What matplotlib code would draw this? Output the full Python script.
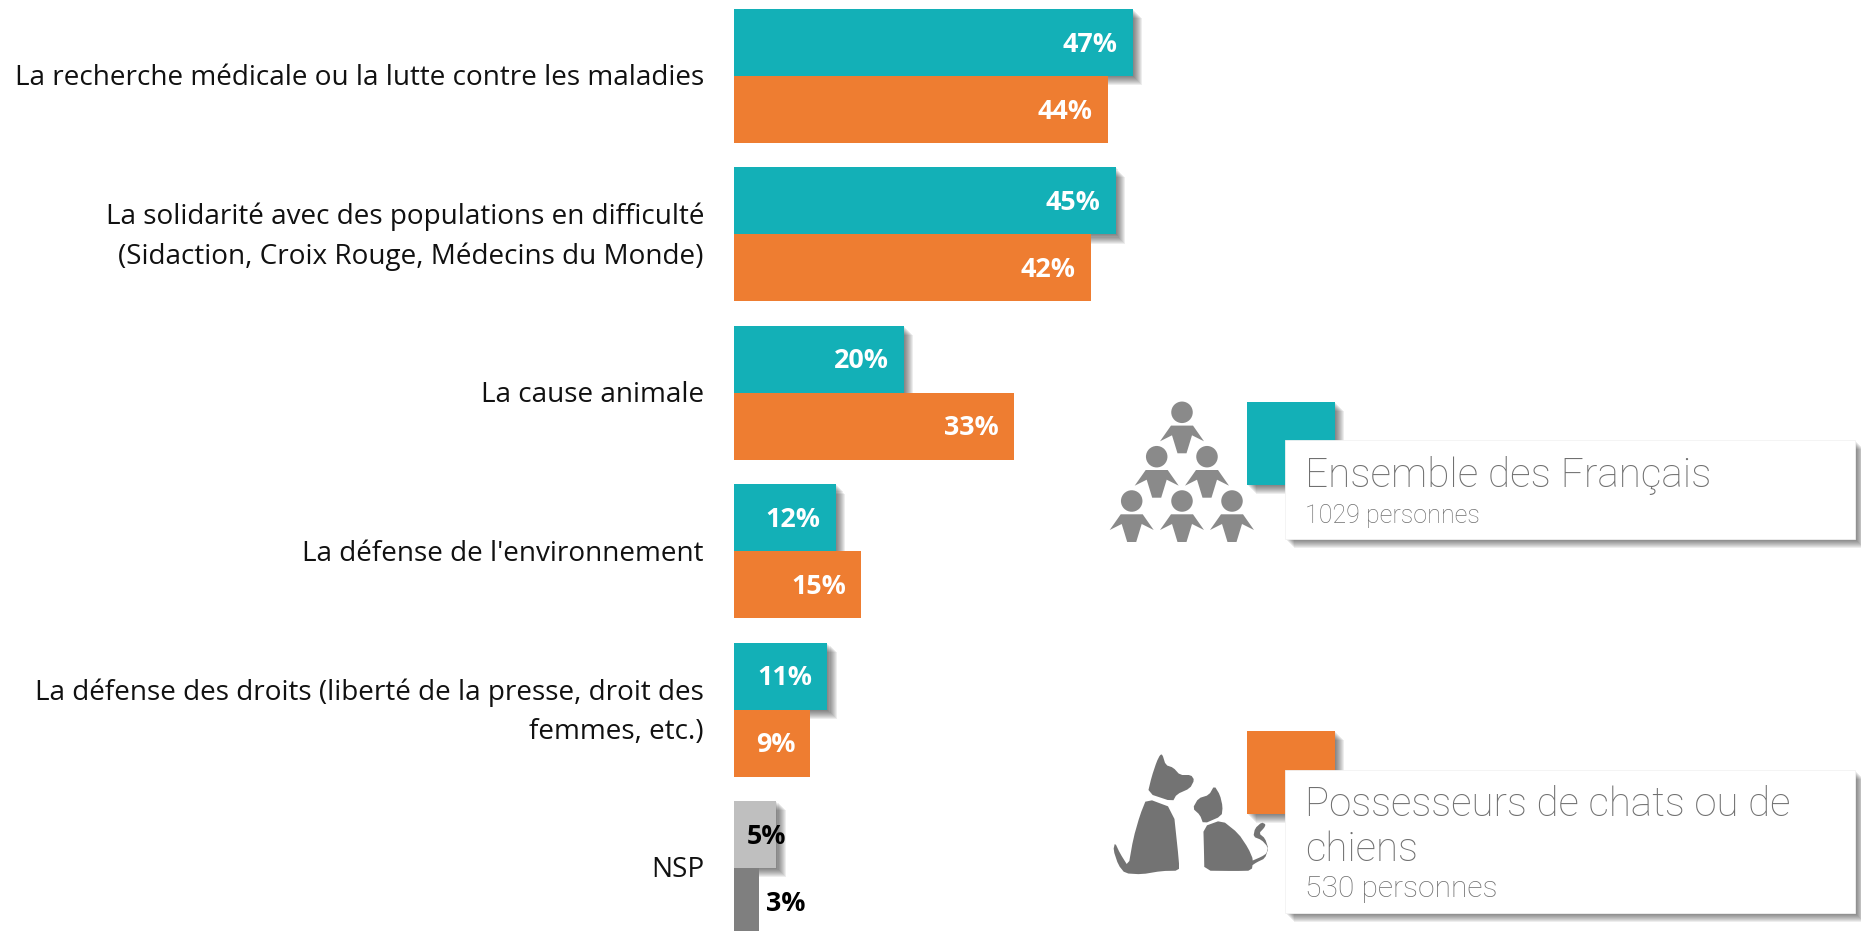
import matplotlib
matplotlib.use("Agg")
import matplotlib.pyplot as plt
import matplotlib.patheffects as pe
from matplotlib.patches import Rectangle, Ellipse, Polygon
import numpy as np

W, H = 1861, 931
categories = [
    "La recherche médicale ou la lutte contre les maladies",
    "La solidarité avec des populations en difficulté\n(Sidaction, Croix Rouge, Médecins du Monde)",
    "La cause animale",
    "La défense de l'environnement",
    "La défense des droits (liberté de la presse, droit des\nfemmes, etc.)",
    "NSP",
]
francais = [47, 45, 20, 12, 11, 5]
possesseurs = [44, 42, 33, 15, 9, 3]
legend_one = ("Ensemble des Français", "1029 personnes")
legend_two = ("Possesseurs de chats ou de", "chiens", "530 personnes")

TEAL, ORANGE, LIGHT, DARK = "#13b0b7", "#ee7d31", "#bfbfbf", "#7f7f7f"
BODY = "Open Sans"
LEG = "Roboto"

plt.rcParams["font.family"] = [BODY, "DejaVu Sans"]
fig = plt.figure(figsize=(W / 100, H / 100), dpi=100, facecolor="white")

# main axes: left edge is the zero of the bars, one unit = 8.49 px
X0 = 734
PX_PER_PCT = 8.49
ax = fig.add_axes([X0 / W, 0, 1 - X0 / W, 1])
ax.set_xlim(0, (W - X0) / PX_PER_PCT)
STEP, Y0 = 158.4, 76
ax.set_ylim((H - Y0) / STEP, -Y0 / STEP)
for s in ax.spines.values():
    s.set_visible(False)
ax.xaxis.set_visible(False)
ax.patch.set_alpha(0)
ypos = np.arange(len(categories))
ax.set_yticks(ypos + 2.3 / STEP, categories, fontsize=20.1, color="#111111", linespacing=1.53, ha="right")
ax.tick_params(axis="y", length=0, pad=21.6)
for t in ax.get_yticklabels():
    t.set_va("center")

def soft_shadow(step=0.75, n=9, alpha=0.085):
    fx = [pe.SimplePatchShadow(offset=(step * i, -step * i), shadow_rgbFace="#303030", alpha=alpha)
          for i in range(n, 0, -1)]
    return fx + [pe.Normal()]

bh = 67 / STEP
for i in ypos:
    a = francais[i]
    b = possesseurs[i]
    nsp = categories[i] == "NSP"
    top = ax.barh(i - bh / 2, a, height=bh, color=LIGHT if nsp else TEAL, linewidth=0, zorder=2)
    top[0].set_path_effects(soft_shadow())
    ax.barh(i + bh / 2, b, height=bh, color=DARK if nsp else ORANGE, linewidth=0, zorder=3)
    col = "black" if nsp else "white"
    dx_a = 7 if nsp else -11
    dx_b = 33 if nsp else -11
    for val, yy, dx in ((a, i - bh / 2, dx_a), (b, i + bh / 2, dx_b)):
        ax.annotate(f"{val}%", (val, yy), xytext=(dx, 0.6), textcoords="offset points",
                    ha="right", va="center_baseline", color=col, fontsize=19.4,
                    fontweight="bold", zorder=5)

# overlay for legend cards and pictograms, in image pixels
ov = fig.add_axes([0, 0, 1, 1])
ov.set_xlim(0, W)
ov.set_ylim(H, 0)
ov.axis("off")
ov.patch.set_alpha(0)

def card(swatch_col, sw_top, sw_bot, box_top, box_bot):
    sw = Rectangle((1247, sw_top), 88, sw_bot - sw_top, fc=swatch_col, ec="none", zorder=2)
    sw.set_path_effects(soft_shadow())
    ov.add_patch(sw)
    bx = Rectangle((1285, box_top), 570, box_bot - box_top, fc="white", ec="#f2f2f2", lw=0.6, zorder=3)
    bx.set_path_effects(soft_shadow())
    ov.add_patch(bx)

card(TEAL, 402, 485, 440, 539)
card(ORANGE, 731, 814, 770, 913)

TXT = "#707070"
def leg(x, y, s, size):
    ov.text(x, y, s, fontsize=size, color=TXT, family=LEG, fontweight="light", va="baseline", ha="left", zorder=4)

leg(1305, 487, legend_one[0], 29.2)
leg(1305, 523, legend_one[1], 18.1)
leg(1305, 816, legend_two[0], 29)
leg(1305, 861, legend_two[1], 29)
leg(1305, 897, legend_two[2], 21.6)

# people pictogram
GREY = "#8a8a8a"
heads = [(1182, 412.3), (1156.7, 456.7), (1207, 456.7), (1131.7, 501), (1182, 501), (1232, 501)]
body = [(-11, 13.3), (11, 13.3), (22, 29), (10, 23), (4.5, 41), (-4.5, 41), (-10, 23), (-22, 29)]
for hx, hy in heads:
    ov.add_patch(Ellipse((hx, hy), 21.5, 21.5, fc=GREY, ec="none", zorder=2))
    ov.add_patch(Polygon([(hx + p, hy + q) for p, q in body], fc=GREY, ec="none", zorder=2))

def chaikin(pts, n=1):
    pts = np.array(pts, float)
    for _ in range(n):
        nxt = np.roll(pts, -1, axis=0)
        pts = np.column_stack([0.8 * pts + 0.2 * nxt, 0.2 * pts + 0.8 * nxt]).reshape(-1, 2)
    return pts

def trace(pts):
    a = chaikin(pts)
    return np.column_stack([1105 + a[:, 0] / 3, 745 + a[:, 1] / 3])

PET = "#737373"
dog_head = [(172, 28), (182, 60), (205, 68), (225, 90), (258, 90), (268, 105), (255, 130), (215, 148),
            (203, 170), (128, 145), (140, 95), (155, 50), (165, 30)]
dog_body = [(125, 160), (205, 190), (222, 350), (222, 377), (170, 378), (110, 388), (60, 385), (40, 360),
            (25, 315), (30, 293), (45, 325), (70, 365), (85, 280), (105, 210)]
cat_head = [(328, 122), (345, 150), (353, 185), (350, 213), (295, 237), (285, 210), (263, 190), (280, 160), (312, 150)]
cat_body = [(350, 225), (400, 265), (430, 310), (445, 345), (440, 377), (390, 378), (298, 377), (297, 320), (295, 245)]
cat_tail = [(435, 350), (470, 335), (485, 325), (488, 305), (470, 285), (445, 275), (450, 250), (470, 232),
            (482, 238), (478, 248), (462, 265), (480, 280), (490, 310), (480, 340), (455, 352), (440, 362)]
for shape in (dog_head, dog_body, cat_head, cat_body, cat_tail):
    ov.add_patch(Polygon(trace(shape), fc=PET, ec="none", zorder=2))

fig.savefig("out.png", dpi=100, facecolor="white")
